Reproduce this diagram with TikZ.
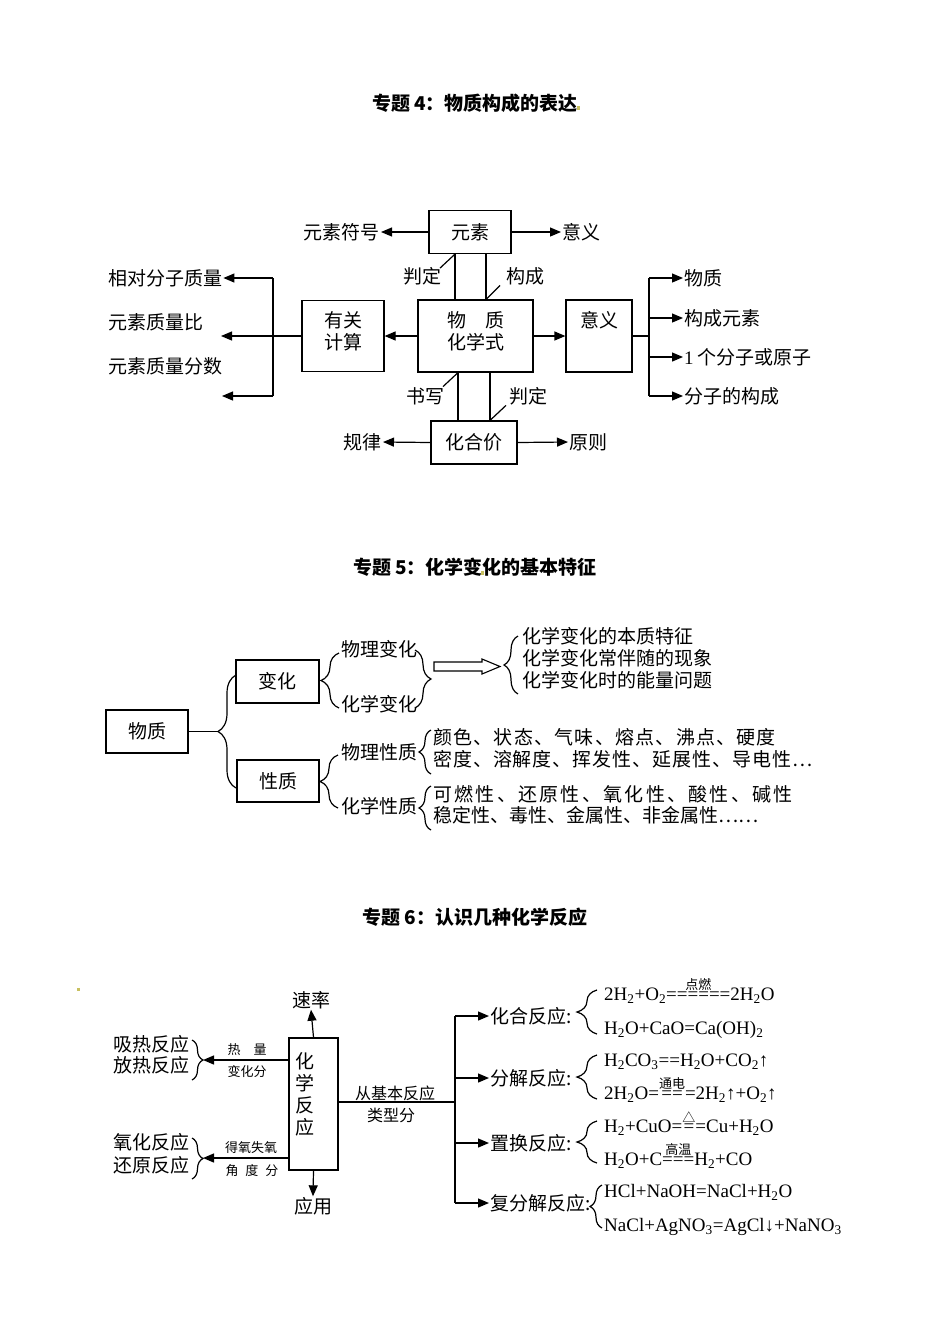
\documentclass[tikz,border=0pt]{standalone}
\usepackage{fontspec}
\setmainfont{Liberation Serif}
\newfontfamily\cjk{Noto Sans CJK SC}
\usetikzlibrary{arrows.meta,decorations.pathreplacing}
\definecolor{dotc}{HTML}{C8C060}
\newcommand\dn[1]{\textsubscript{#1}}
\newcommand\cnd[2]{\leavevmode\vbox{\offinterlineskip\halign{\hfil##\hfil\cr{\cjk\fontsize{13}{13}\selectfont #1}\cr\noalign{\kern1.5pt}#2\cr}}}
\begin{document}
\begin{tikzpicture}[x=1pt,y=-1pt,
  ln/.style={line width=1.2pt},
  arr/.style={line width=1.2pt,-{Triangle[length=11pt,width=9pt]}},
  box/.style={draw,line width=1.2pt,inner sep=0pt,font=\cjk\fontsize{19}{22}\selectfont,text height=15.5pt,text depth=1.5pt},
  lbl/.style={font=\cjk\fontsize{19}{22}\selectfont,inner sep=1pt,text height=15.5pt,text depth=1.5pt},
  sml/.style={font=\cjk\fontsize{13}{15}\selectfont,inner sep=1pt,text height=10.6pt,text depth=1pt},
  mid/.style={font=\cjk\fontsize{16}{18}\selectfont,inner sep=1pt,text height=13pt,text depth=1.3pt},
  frm/.style={font=\rmfamily\fontsize{19}{22}\selectfont,inner sep=0pt,anchor=west,text height=15.5pt,text depth=4pt},
  ttl/.style={font=\cjk\bfseries\fontsize{19}{22}\selectfont,inner sep=1pt,text height=15.5pt,text depth=1.5pt},
  brc/.style={line width=1.2pt,decorate,decoration={brace,amplitude=#1}}]
\fill[white] (0,0) rectangle (950,1342);
\useasboundingbox (0,0) rectangle (950,1342);

% ---------- Section 4 ----------
\node[ttl] (t4) at (475,103) {专题 4：物质构成的表达};
\fill[dotc] (577,106) rectangle (580,110);

\node[box,minimum width=82,minimum height=43] (ys) at (470,232) {元素};
\node[lbl,anchor=east] (ysfh) at (381,232) {元素符号};
\node[lbl,anchor=west] (yy1) at (561,232) {意义};
\draw[arr] (ys.west) -- (ysfh.east);
\draw[arr] (ys.east) -- (yy1.west);

\node[box,minimum width=115,minimum height=72] (hxs) at (475.5,336) {};
\node[lbl] (hxs1) at (475.5,320) {物　质};
\node[lbl] (hxs2) at (475.5,342) {化学式};

\draw[ln] (455,0 |- ys.south) -- (455,0 |- hxs.north);
\draw[ln] (486,0 |- ys.south) -- (486,0 |- hxs.north);
\draw[ln] (455,0 |- ys.south) -- ++(-15,14);
\node[lbl] (pd1) at (422,276) {判定};
\draw[ln] (486,0 |- hxs.north) -- ++(14,-14);
\node[lbl] (gc) at (525,276) {构成};

\node[box,minimum width=82,minimum height=71] (ygjs) at (343,336) {};
\node[lbl] (ygjs1) at (343,320) {有关};
\node[lbl] (ygjs2) at (343,342) {计算};
\draw[arr] (hxs.west) -- (ygjs.east);
\coordinate (ml) at (221,336);
\draw[arr] (ygjs.west) -- (ml);
\coordinate (vt) at (273,278);
\coordinate (vb) at (273,396);
\draw[ln] (vt) -- (vb);
\node[lbl,anchor=west] (xdfz) at (107,278) {相对分子质量};
\node[lbl,anchor=west] (ysb) at (107,322) {元素质量比};
\node[lbl,anchor=west] (ysfs) at (107,366) {元素质量分数};
\coordinate (eb) at (222,396);
\draw[arr] (vt) -- (xdfz.east);
\draw[arr] (vb) -- (eb);

\node[box,minimum width=66,minimum height=72] (yyb) at (599,336) {};
\node[lbl] (yybt) at (599,320) {意义};
\draw[arr] (hxs.east) -- (yyb.west);
\coordinate (rj) at (649,336);
\coordinate (rt) at (649,278);
\coordinate (rb1) at (649,396);
\draw[ln] (yyb.east) -- (rj);
\draw[ln] (rt) -- (rb1);
\node[lbl,anchor=west] (wz) at (683,278) {物质};
\node[lbl,anchor=west] (gcys) at (683,318) {构成元素};
\node[lbl,anchor=west] (fzyz) at (683,357) {{\rmfamily 1} 个分子或原子};
\node[lbl,anchor=west] (fzgc) at (683,396) {分子的构成};
\draw[arr] (rt) -- (wz.west);
\draw[arr] (649,318) -- (gcys.west);
\draw[arr] (649,357) -- (fzyz.west);
\draw[arr] (rb1) -- (fzgc.west);

\node[box,minimum width=86,minimum height=43] (hhj) at (474,442.5) {化合价};
\draw[ln] (458,0 |- hxs.south) -- (458,0 |- hhj.north);
\draw[ln] (490,0 |- hxs.south) -- (490,0 |- hhj.north);
\draw[ln] (458,0 |- hxs.south) -- ++(-15,14);
\node[lbl] (sx) at (425,396) {书写};
\draw[ln] (490,0 |- hhj.north) -- ++(16,-15);
\node[lbl] (pd2) at (528,396) {判定};
\node[lbl,anchor=east] (gl) at (383,442) {规律};
\node[lbl,anchor=west] (yz) at (568,442) {原则};
\draw[arr] (hhj.west) -- (gl.east);
\draw[arr] (hhj.east) -- (yz.west);

% ---------- Section 5 ----------
\node[ttl] (t5) at (475,567) {专题 5：化学变化的基本特征};
\fill[dotc] (481,571) rectangle (484,575);

\node[box,minimum width=82,minimum height=43] (wzb) at (147,731.5) {物质};
\node[box,minimum width=83,minimum height=43] (bh) at (277.5,681.5) {变化};
\node[box,minimum width=82,minimum height=42] (xz) at (278,781) {性质};
\coordinate (bt) at (218,731.5);
\draw[ln] (wzb.east) -- (bt);
\draw[brc=18] (236,788) -- (236,675);

\node[lbl,anchor=west] (wlbh) at (340,649) {物理变化};
\node[lbl,anchor=west] (hxbh) at (340,704) {化学变化};
\draw[brc=18] (339,708) -- (339,653);
\draw[brc=16] (415,650) -- (415,708);
\draw[line width=1.1pt] (434,662) -- (482,662) -- (482,659) -- (500,666.5) -- (482,674) -- (482,671) -- (434,671) -- cycle;
\draw[brc=14] (518,694) -- (518,636);
\node[lbl,anchor=west] (bz1) at (521,636) {化学变化的本质特征};
\node[lbl,anchor=west] (bz2) at (521,658) {化学变化常伴随的现象};
\node[lbl,anchor=west] (bz3) at (521,680) {化学变化时的能量问题};

\draw[brc=18] (338,808) -- (338,755);
\node[lbl,anchor=west] (wlxz) at (340,752) {物理性质};
\node[lbl,anchor=west] (hxxz) at (340,806) {化学性质};
\draw[brc=12] (431,774) -- (431,730);
\node[lbl,anchor=west] (wl1) at (432,737) {\addfontfeature{LetterSpace=6.5}颜色、状态、气味、熔点、沸点、硬度};
\node[lbl,anchor=west] (wl2) at (432,759) {\addfontfeature{LetterSpace=5}密度、溶解度、挥发性、延展性、导电性…};
\draw[brc=12] (431,830) -- (431,786);
\node[lbl,anchor=west] (hx1) at (432,794) {\addfontfeature{LetterSpace=12}可燃性、还原性、氧化性、酸性、碱性};
\node[lbl,anchor=west] (hx2) at (432,815) {稳定性、毒性、金属性、非金属性……};

% ---------- Section 6 ----------
\node[ttl] (t6) at (475,917) {专题 6：认识几种化学反应};
\fill[dotc] (77,988) rectangle (80,991);

\node[box,minimum width=49,minimum height=132] (hxfy) at (313.5,1104) {};
\node[lbl] (c1) at (305,1061) {化};
\node[lbl] (c2) at (305,1083) {学};
\node[lbl] (c3) at (305,1105) {反};
\node[lbl] (c4) at (305,1127) {应};
\node[lbl] (sl) at (311,1000) {速率};
\node[lbl] (yyg) at (313,1206) {应用};
\draw[arr] (hxfy.north) -- (sl.south);
\draw[arr] (hxfy.south) -- (yyg.north);

\coordinate (a1) at (203,1060);
\draw[arr] (hxfy.west |- a1) -- (a1);
\draw[brc=11] (192,1040) -- (192,1080);
\node[lbl,anchor=east] (xr) at (191,1044) {吸热反应};
\node[lbl,anchor=east] (fr) at (191,1065) {放热反应};
\node[sml] (rl) at (247,1050) {热　量};
\node[sml] (bhf) at (247,1072) {变化分};

\coordinate (a2) at (203,1158);
\draw[arr] (hxfy.west |- a2) -- (a2);
\draw[brc=11] (192,1138) -- (192,1179);
\node[lbl,anchor=east] (yh) at (191,1142) {氧化反应};
\node[lbl,anchor=east] (hy) at (191,1165) {还原反应};
\node[sml] (dy) at (251,1148) {得氧失氧};
\node[sml] (jd) at (252,1171) {角\hspace{7pt}度\hspace{7pt}分};

\coordinate (rb) at (455,1102);
\draw[ln] (hxfy.east |- rb) -- (rb);
\node[mid] (cjb) at (395,1094) {从基本反应};
\node[mid] (lxf) at (391,1116) {类型分};
\draw[ln] (455,1016) -- (455,1203);
\node[lbl,anchor=west] (hh) at (489,1016) {化合反应:};
\node[lbl,anchor=west] (fj) at (489,1078) {分解反应:};
\node[lbl,anchor=west] (zh) at (489,1143) {置换反应:};
\node[lbl,anchor=west] (ffj) at (489,1203) {复分解反应:};
\draw[arr] (455,1016) -- (hh.west);
\draw[arr] (455,1078) -- (fj.west);
\draw[arr] (455,1143) -- (zh.west);
\draw[arr] (455,1203) -- (ffj.west);

\draw[brc=20] (597,1034) -- (597,990);
\node[frm] (e1) at (604,995) {2H\dn{2}+O\dn{2}=\cnd{点燃}{====}=2H\dn{2}O};
\node[frm] (e2) at (604,1029) {H\dn{2}O+CaO=Ca(OH)\dn{2}};
\draw[brc=20] (597,1099) -- (597,1055);
\node[frm] (e3) at (604,1061) {H\dn{2}CO\dn{3}==H\dn{2}O+CO\dn{2}↑};
\node[frm] (e4) at (604,1094) {2H\dn{2}O=\cnd{通电}{==}=2H\dn{2}↑+O\dn{2}↑};
\draw[brc=20] (597,1163) -- (597,1121);
\node[frm] (e5) at (604,1127) {H\dn{2}+CuO=\cnd{△}{=}=Cu+H\dn{2}O};
\node[frm] (e6) at (604,1160) {H\dn{2}O+C\cnd{高温}{===}H\dn{2}+CO};
\draw[brc=12] (602,1228) -- (602,1185);
\node[frm] (e7) at (604,1192) {HCl+NaOH=NaCl+H\dn{2}O};
\node[frm] (e8) at (604,1226) {NaCl+AgNO\dn{3}=AgCl↓+NaNO\dn{3}};
\end{tikzpicture}
\end{document}
